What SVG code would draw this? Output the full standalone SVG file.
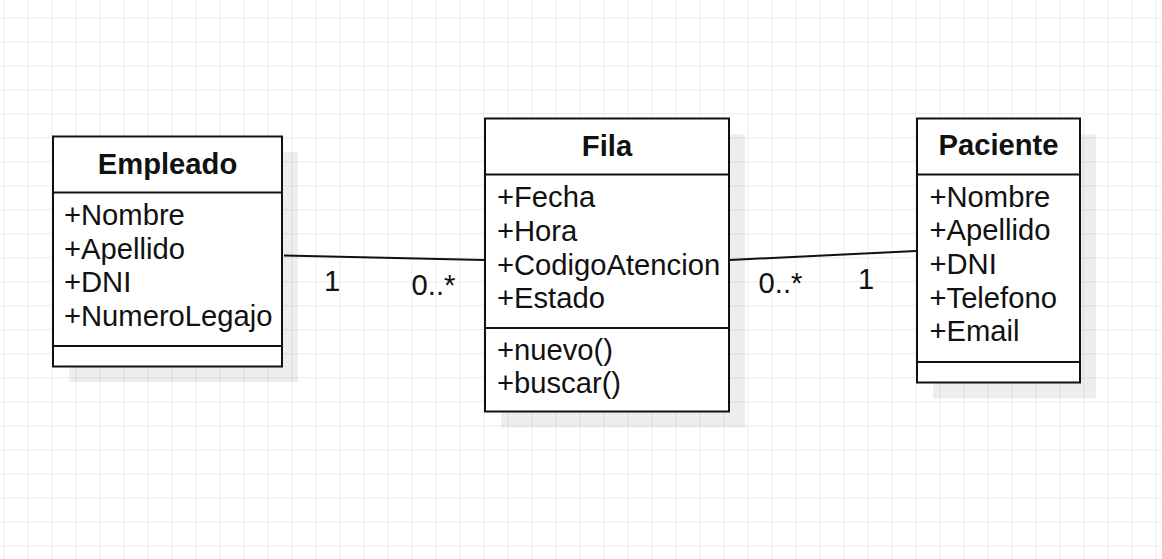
<svg xmlns="http://www.w3.org/2000/svg" width="1162" height="559" viewBox="0 0 1162 559">
<defs>
<pattern id="grid" x="3.3" y="17.3" width="24" height="24" patternUnits="userSpaceOnUse">
<path d="M0.5 0V24M0 0.5H24" fill="none" stroke="#ececec" stroke-width="1"/>
</pattern>
<style>
.box{fill:#fff;stroke:#111;stroke-width:2}
.sep{stroke:#111;stroke-width:2}
.shadow{fill:#000;fill-opacity:0.065}
.t{font-family:"Liberation Sans",Arial,sans-serif;font-size:29.2px;fill:#111}
.title{font-weight:bold;text-anchor:middle}
.mid{text-anchor:middle}
.edge{fill:none;stroke:#111;stroke-width:2}
</style>
</defs>
<rect width="1162" height="559" fill="#fff"/>
<rect width="1162" height="559" fill="url(#grid)"/>

<g id="connectors">
<line class="edge" x1="284" y1="255.5" x2="484" y2="260"/>
<line class="edge" x1="730" y1="260" x2="916" y2="251"/>
<text class="t mid" x="332" y="291">1</text>
<text class="t mid" x="433.5" y="295">0..*</text>
<text class="t mid" x="780.5" y="293">0..*</text>
<text class="t mid" x="866" y="288.5">1</text>
</g>

<g id="Empleado">
<rect class="shadow" x="69" y="152" width="229" height="230"/>
<rect class="box" x="53" y="136.5" width="229" height="230"/>
<line class="sep" x1="53" y1="192.5" x2="282" y2="192.5"/>
<line class="sep" x1="53" y1="346" x2="282" y2="346"/>
<text class="t title" x="167.5" y="173.5">Empleado</text>
<text class="t" x="64" y="225">+Nombre</text>
<text class="t" x="64" y="258.6">+Apellido</text>
<text class="t" x="64" y="292.2">+DNI</text>
<text class="t" x="64" y="325.8">+NumeroLegajo</text>
</g>

<g id="Fila">
<rect class="shadow" x="501" y="134.5" width="244" height="293"/>
<rect class="box" x="485" y="118.5" width="244" height="293"/>
<line class="sep" x1="485" y1="174.5" x2="729" y2="174.5"/>
<line class="sep" x1="485" y1="328" x2="729" y2="328"/>
<text class="t title" x="607" y="156">Fila</text>
<text class="t" x="497" y="207.3">+Fecha</text>
<text class="t" x="497" y="240.9">+Hora</text>
<text class="t" x="497" y="274.5">+CodigoAtencion</text>
<text class="t" x="497" y="308.1">+Estado</text>
<text class="t" x="497" y="359.5">+nuevo()</text>
<text class="t" x="497" y="393">+buscar()</text>
</g>

<g id="Paciente">
<rect class="shadow" x="933" y="134.5" width="163" height="264"/>
<rect class="box" x="917" y="118.5" width="163" height="264"/>
<line class="sep" x1="917" y1="174.5" x2="1080" y2="174.5"/>
<line class="sep" x1="917" y1="362" x2="1080" y2="362"/>
<text class="t title" x="998.5" y="155">Paciente</text>
<text class="t" x="929.5" y="206.7">+Nombre</text>
<text class="t" x="929.5" y="240.3">+Apellido</text>
<text class="t" x="929.5" y="273.9">+DNI</text>
<text class="t" x="929.5" y="307.5">+Telefono</text>
<text class="t" x="929.5" y="341.1">+Email</text>
</g>
</svg>
